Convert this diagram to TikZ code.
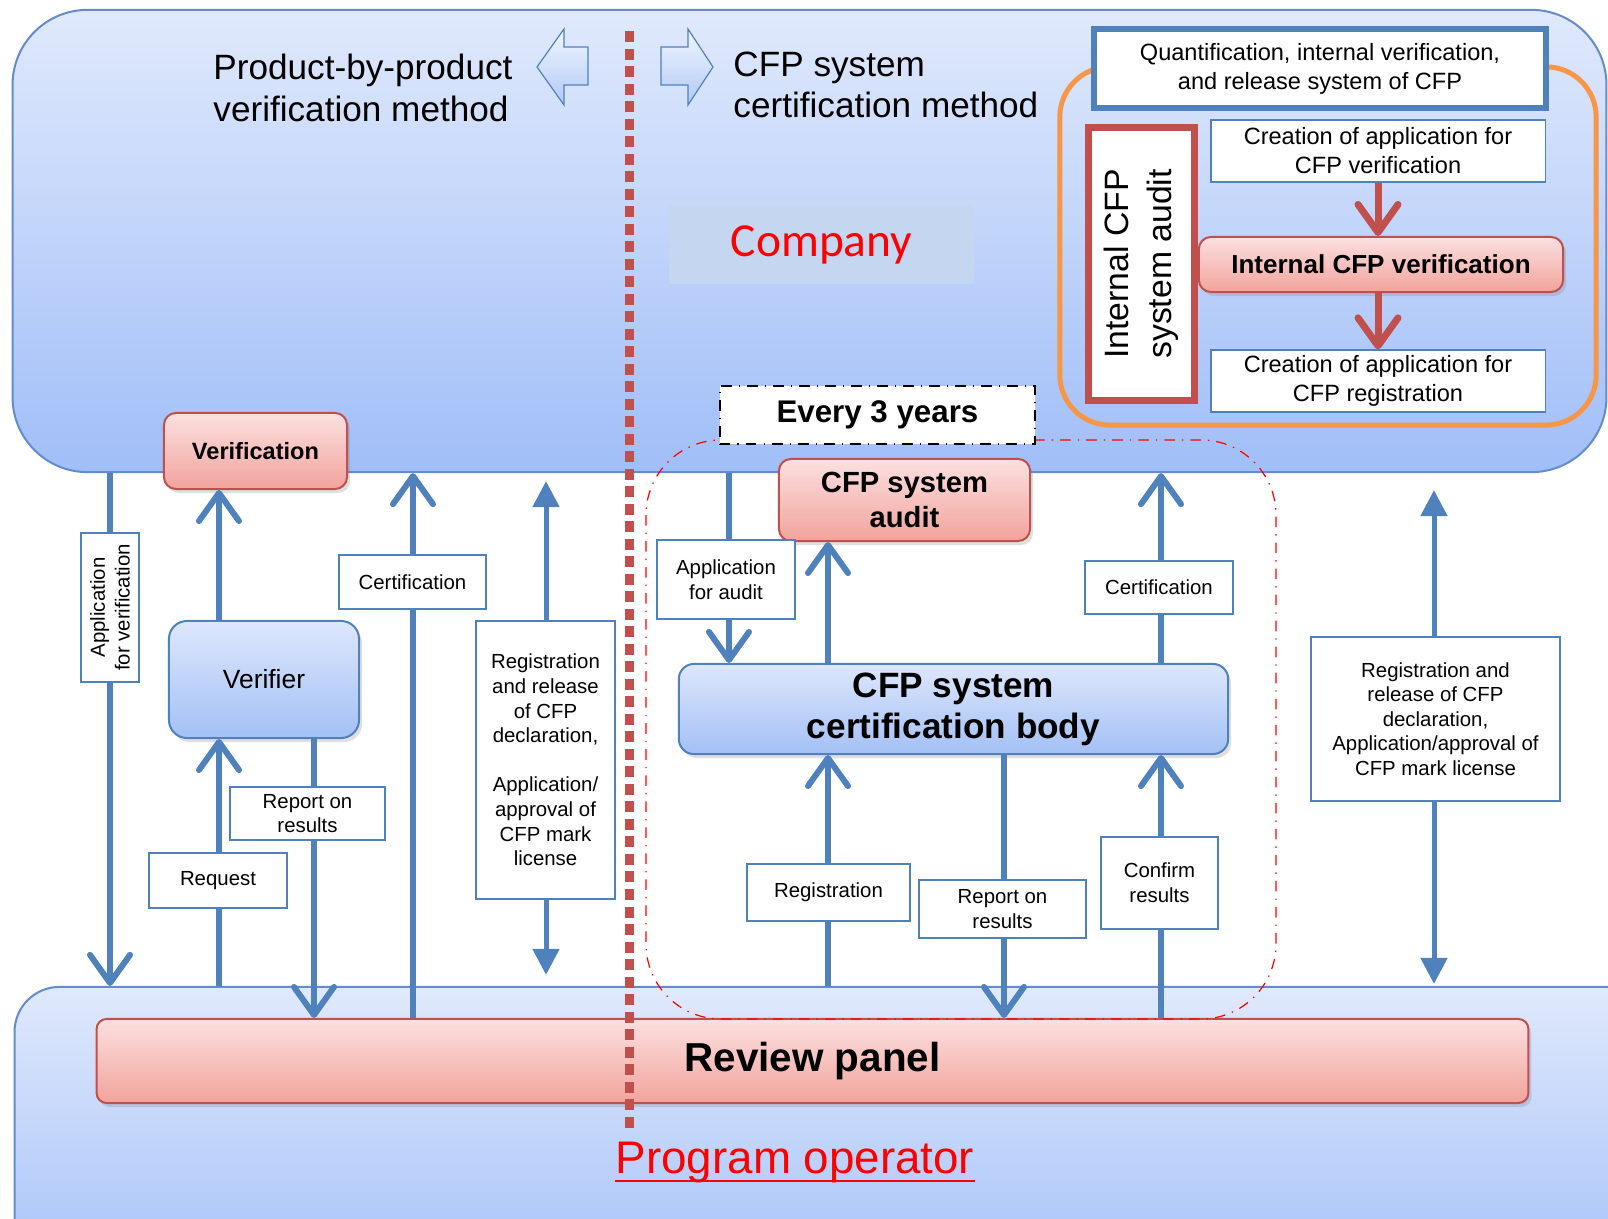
\documentclass[tikz,border=0pt]{standalone}
\usepackage{fontspec}
\setmainfont{Liberation Sans}
\newfontfamily\calibri{Carlito}
\usetikzlibrary{arrows.meta,shadows}

\definecolor{panelTop}{RGB}{224,233,252}
\definecolor{panelBot}{RGB}{160,190,248}
\definecolor{panelLine}{RGB}{100,140,205}
\definecolor{blueLine}{RGB}{79,129,189}
\definecolor{redLine}{RGB}{192,80,77}
\definecolor{pinkTop}{RGB}{251,224,224}
\definecolor{pinkBot}{RGB}{242,163,156}
\definecolor{boxTop}{RGB}{221,231,252}
\definecolor{boxBot}{RGB}{163,192,245}
\definecolor{companyFill}{RGB}{197,214,240}
\definecolor{orangeLine}{RGB}{247,150,70}

\newcommand{\fsz}[2]{\fontsize{#1}{#2}\selectfont}

\tikzset{
  panel/.style={draw=panelLine, line width=0.02cm, top color=panelTop, bottom color=panelBot, inner sep=0},
  redbox/.style={draw=redLine, line width=0.02cm, rounded corners=0.12cm, top color=pinkTop, bottom color=pinkBot,
    align=center, inner sep=0, drop shadow={opacity=0.25, shadow xshift=0.03cm, shadow yshift=-0.04cm}},
  bluebox/.style={draw=blueLine, line width=0.02cm, rounded corners=0.18cm, top color=boxTop, bottom color=boxBot,
    align=center, inner sep=0, drop shadow={opacity=0.25, shadow xshift=0.03cm, shadow yshift=-0.04cm}},
  whitebox/.style={draw=blueLine, line width=0.012cm, fill=white, align=center, inner sep=0},
  lbl/.style={whitebox, font=\fsz{5.8}{7}},
  flow/.style={draw=blueLine, line width=0.06cm, -{Straight Barb[length=0.28cm, width=0.4cm, round]}},
  twoway/.style={draw=blueLine, line width=0.05cm, {Triangle[length=0.26cm, width=0.26cm]}-{Triangle[length=0.26cm, width=0.26cm]}},
  redflow/.style={draw=redLine, line width=0.07cm, -{Straight Barb[length=0.28cm, width=0.4cm, round]}},
  hollowarrow/.style={draw=blueLine, line width=0.012cm, top color=white!60!boxTop, bottom color=boxBot!85!white},
  sepline/.style={draw=redLine, line width=0.09cm, dash pattern=on 0.11cm off 0.065cm},
}

\begin{document}
\begin{tikzpicture}[x=0.01cm, y=-0.01cm]
  \useasboundingbox (0,0) rectangle (1608,1219);

  % panels
  \node[panel, rounded corners=0.75cm, minimum width=15.93cm, minimum height=4.62cm] (company) at (809.5,241) {};
  \node[panel, rounded corners=0.45cm, minimum width=16.35cm, minimum height=3.2cm] (program) at (832.5,1147) {};
  \node[redbox, rounded corners=0.1cm, minimum width=14.31cm, minimum height=0.84cm, font=\bfseries\fsz{11.5}{13}] (reviewPanel) at (812.5,1061) {Review panel};
  \node[anchor=base, inner sep=0, text=red, font=\fsz{13}{15}] (opText) at (795,1174) {Program operator};
  \draw[red, line width=0.025cm] ([yshift=-0.07cm]opText.base west) -- ([yshift=-0.07cm]opText.base east);

  % method headings
  \node[anchor=west, align=left, font=\fsz{10}{11.8}] (pbpText) at (201,88) {Product-by-product\\verification method};
  \node[anchor=west, align=left, font=\fsz{10}{11.8}] (csText) at (721,85) {CFP system\\certification method};
  \draw[hollowarrow] (537,67) -- (564,29) -- (564,47) -- (588,47) -- (588,85) -- (564,85) -- (564,105) -- cycle;
  \draw[hollowarrow] (713,67) -- (688,29) -- (688,47) -- (661,47) -- (661,85) -- (688,85) -- (688,105) -- cycle;

  % separator
  \coordinate (sepTop) at (629,31);
  \coordinate (sepBot) at (629,1130);
  \draw[sepline] (sepTop) -- (sepBot);

  \node[fill=companyFill, minimum width=3.05cm, minimum height=0.79cm, inner sep=0, text=red,
    font=\calibri\fsz{13.5}{16}] (companyLabel) at (821.5,244.5) {Company};

  % in-house CFP system
  \node[draw=orangeLine, line width=0.05cm, rounded corners=0.5cm, minimum width=5.36cm, minimum height=3.58cm, inner sep=0] (cfpSystem) at (1328,246) {};
  \node[draw=blueLine, line width=0.06cm, fill=white, minimum width=4.52cm, minimum height=0.79cm, inner sep=0,
    align=center, font=\fsz{6.7}{8.2}] (quantBox) at (1320,68.5) {Quantification, internal verification,\\and release system of CFP};
  \node[draw=redLine, line width=0.07cm, fill=white, rotate=90, minimum width=2.72cm, minimum height=1.05cm, inner sep=0,
    align=center, font=\fsz{9.6}{12.2}] (intAudit) at (1141.5,264) {Internal CFP\\system audit};
  \node[whitebox, minimum width=3.34cm, minimum height=0.62cm, font=\fsz{6.7}{8.2}] (creVerif) at (1378,151) {Creation of application for\\CFP verification};
  \node[redbox, minimum width=3.64cm, minimum height=0.55cm, font=\bfseries\fsz{7.4}{9}] (intVerif) at (1381,264.5) {Internal CFP verification};
  \node[whitebox, minimum width=3.34cm, minimum height=0.62cm, font=\fsz{6.7}{8.2}] (creReg) at (1378,381) {Creation of application for\\CFP registration};
  \draw[redflow] (creVerif.south) -- (creVerif.south |- intVerif.north);
  \draw[redflow] (creReg.north |- intVerif.south) -- (creReg.north);

  % audit cycle
  \draw[red, dash dot, line width=0.012cm, rounded corners=0.75cm] (646,440) rectangle (1276,1019);
  \node[draw=black, dash dot, line width=0.012cm, fill=white, minimum width=3.15cm, minimum height=0.58cm, inner sep=0,
    font=\bfseries\fsz{8.9}{10}] (every) at (877.5,415) {Every 3 years};

  % bodies
  \node[redbox, minimum width=1.83cm, minimum height=0.76cm, font=\bfseries\fsz{6.7}{8}] (verification) at (255.5,451) {Verification};
  \node[bluebox, minimum width=1.9cm, minimum height=1.17cm, font=\fsz{7.5}{9}] (verifier) at (264,679.5) {Verifier};
  \node[redbox, minimum width=2.51cm, minimum height=0.82cm, font=\bfseries\fsz{8.3}{10}] (audit) at (904.5,500) {CFP system\\audit};
  \node[bluebox, rounded corners=0.15cm, minimum width=5.49cm, minimum height=0.9cm, font=\bfseries\fsz{10}{11.6}] (certBody) at (953.5,709) {CFP system\\certification body};

  % arrow columns
  \coordinate (colA) at (110,0);
  \coordinate (colB) at (219,0);
  \coordinate (colD) at (314,0);
  \coordinate (colE) at (413,0);
  \coordinate (colF) at (546,0);
  \coordinate (colG) at (729,0);
  \coordinate (colH) at (828,0);
  \coordinate (colK) at (1004,0);
  \coordinate (colI) at (1161,0);
  \coordinate (colM) at (1434,0);

  \draw[flow] (colA |- company.south) -- (colA |- program.north);
  \draw[flow] (colB |- verifier.north) -- (colB |- verification.south);
  \draw[flow] (colB |- program.north) -- (colB |- verifier.south);
  \draw[flow] (colD |- verifier.south) -- (colD |- reviewPanel.north);
  \draw[flow] (colE |- reviewPanel.north) -- (colE |- company.south);
  \draw[twoway, shorten <=0.08cm, shorten >=0.11cm] (colF |- company.south) -- (colF |- program.north);
  \draw[flow] (colG |- company.south) -- (colG |- certBody.north);
  \draw[flow] (colH |- certBody.north) -- (colH |- audit.south);
  \draw[flow] (colI |- certBody.north) -- (colI |- company.south);
  \draw[flow] (colH |- program.north) -- (colH |- certBody.south);
  \draw[flow] (colK |- certBody.south) -- (colK |- reviewPanel.north);
  \draw[flow] (colI |- reviewPanel.north) -- (colI |- certBody.south);
  \draw[twoway, shorten <=0.17cm, shorten >=0.02cm] (colM |- company.south) -- (colM |- program.north);

  % labels on the arrows
  \node[lbl, rotate=90, minimum width=1.49cm, minimum height=0.58cm] (appVerLbl) at (110,607.5) {Application\\for verification};
  \node[lbl, minimum width=1.38cm, minimum height=0.55cm] (requestLbl) at (218,880.5) {Request};
  \node[lbl, minimum width=1.55cm, minimum height=0.53cm] (reportLLbl) at (307.5,813.5) {Report on\\results};
  \node[lbl, minimum width=1.47cm, minimum height=0.54cm] (certLLbl) at (412.5,582) {Certification};
  \node[lbl, minimum width=1.39cm, minimum height=2.78cm] (regLLbl) at (545.5,760) {Registration\\and release\\of CFP\\declaration,\\[7pt]Application/\\approval of\\CFP mark\\license};
  \node[lbl, minimum width=1.38cm, minimum height=0.79cm] (appAuditLbl) at (726,579.5) {Application\\for audit};
  \node[lbl, minimum width=1.48cm, minimum height=0.53cm] (certRLbl) at (1159,587.5) {Certification};
  \node[lbl, minimum width=1.63cm, minimum height=0.57cm] (registLbl) at (828.5,892.5) {Registration};
  \node[lbl, minimum width=1.67cm, minimum height=0.58cm] (reportRLbl) at (1002.5,909) {Report on\\results};
  \node[lbl, minimum width=1.17cm, minimum height=0.92cm] (confirmLbl) at (1159.5,883) {Confirm\\results};
  \node[lbl, minimum width=2.49cm, minimum height=1.64cm] (regRLbl) at (1435.5,719) {Registration and\\release of CFP\\declaration,\\Application/approval of\\CFP mark license};
\end{tikzpicture}
\end{document}
